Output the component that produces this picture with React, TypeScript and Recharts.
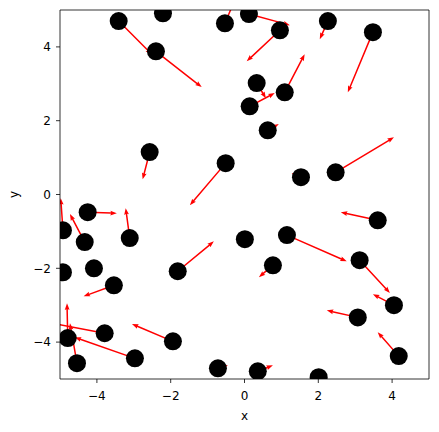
import React from "react";
import { ScatterChart, Scatter, XAxis, YAxis, ReferenceLine } from "recharts";

// point positions
const xs = [
  -3.41, -2.21, -2.4, -0.53, 0.12, 0.96, 2.26, 3.48, 0.33, 1.09,
  0.14, 0.63, -2.57, -0.51, 1.53, 2.47, -4.25, -4.92, -4.33, -3.11,
  0.01, 1.15, 3.61, -4.92, -4.08, -1.81, 0.77, 3.12, -3.54, -3.79,
  -4.79, -4.54, -2.97, -1.94, 4.05, 3.07, 4.18, -0.72, 0.36, 2.01,
];
const ys = [
  4.7, 4.91, 3.88, 4.64, 4.89, 4.45, 4.7, 4.4, 3.02, 2.77,
  2.39, 1.74, 1.15, 0.85, 0.47, 0.6, -0.48, -0.97, -1.29, -1.18,
  -1.21, -1.1, -0.7, -2.11, -2.0, -2.08, -1.92, -1.78, -2.46, -3.76,
  -3.89, -4.57, -4.44, -3.98, -3.0, -3.33, -4.38, -4.71, -4.79, -4.95,
];
// arrow components
const us = [
  0.9, 0.05, 1.24, 0.24, 1.11, -0.9, -0.22, -0.68, 0.25, 0.54,
  0.68, 0.3, -0.19, -0.97, -0.25, 1.58, 0.79, -0.06, -0.4, -0.11,
  0.05, 1.62, -1.0, -0.08, 0.05, 0.98, -0.38, 0.82, -0.82, -1.43,
  -0.02, -0.19, -1.63, -1.11, -0.57, -0.84, -0.57, 0.27, 0.41, 0.03,
];
const vs = [
  -0.9, -0.05, -0.97, 0.57, -0.3, -0.84, -0.49, -1.63, -0.41, 1.03,
  0.36, 0.17, -0.74, -1.14, 0.11, 0.95, -0.03, 0.87, 0.76, 0.81,
  -0.03, -0.71, 0.22, 0.0, 0.0, 0.81, -0.32, -0.89, -0.3, 0.27,
  0.94, 1.08, 0.57, 0.47, 0.3, 0.19, 0.65, 0.08, 0.16, 0.0,
];
const ticks = [-4, -2, 0, 2, 4];

const points = xs.map((x, i) => ({ x, y: ys[i] }));

const fmt = (v: number) => String(v).replace("-", "\u2212");

const Arrow = (props: any) => {
  const { x1, y1, x2, y2, clipPath } = props;
  const dx = x2 - x1;
  const dy = y2 - y1;
  const len = Math.hypot(dx, dy);
  if (!len) return null;
  const ux = dx / len;
  const uy = dy / len;
  const nx = -uy;
  const ny = ux;
  const w = 0.75;
  const hw = 2.4;
  const hl = Math.min(6.5, len);
  const ha = Math.min(5.8, len);
  const bx = x2 - ux * hl;
  const by = y2 - uy * hl;
  const ax = x2 - ux * ha;
  const ay = y2 - uy * ha;
  const pts = [
    [x1 + nx * w, y1 + ny * w],
    [ax + nx * w, ay + ny * w],
    [bx + nx * hw, by + ny * hw],
    [x2, y2],
    [bx - nx * hw, by - ny * hw],
    [ax - nx * w, ay - ny * w],
    [x1 - nx * w, y1 - ny * w],
  ];
  return (
    <polygon
      points={pts.map((p) => p.join(",")).join(" ")}
      fill="#ff0000"
      stroke="none"
      clipPath={clipPath}
    />
  );
};

const Dot = (props: any) => <circle cx={props.cx} cy={props.cy} r={9} fill="#000" />;

const font = { fontFamily: "DejaVu Sans", fontSize: 12, fill: "#000" };

export default function App() {
  return (
    <div style={{ position: "absolute", left: 0, top: 0 }}>
      <ScatterChart
        width={439}
        height={432}
        margin={{ top: 10, right: 10, left: 0, bottom: 0 }}
        style={{ background: "#fff" }}
      >
        <XAxis
          dataKey="x"
          type="number"
          domain={[-5, 5]}
          ticks={ticks}
          allowDataOverflow
          height={53}
          tickFormatter={fmt}
          tick={font}
          tickSize={4}
          tickMargin={8}
          stroke="#000"
          strokeWidth={0.8}
          label={{ value: "x", position: "insideBottom", offset: 12, style: font }}
        />
        <YAxis
          dataKey="y"
          type="number"
          domain={[-5, 5]}
          ticks={ticks}
          allowDataOverflow
          width={60}
          tickFormatter={fmt}
          tick={font}
          tickSize={4}
          tickMargin={5}
          stroke="#000"
          strokeWidth={0.8}
          label={{
            value: "y",
            angle: -90,
            position: "insideLeft",
            offset: 14,
            style: { ...font, textAnchor: "middle" },
          }}
        />
        {xs.map((x, i) => (
          <ReferenceLine
            key={`arrow-${i}`}
            segment={[
              { x, y: ys[i] },
              { x: x + us[i], y: ys[i] + vs[i] },
            ]}
            ifOverflow="hidden"
            shape={Arrow}
          />
        ))}
        <Scatter data={points} shape={Dot} isAnimationActive={false} />
        <ReferenceLine y={5} stroke="#000" strokeWidth={0.8} />
        <ReferenceLine x={5} stroke="#000" strokeWidth={0.8} />
      </ScatterChart>
    </div>
  );
}
